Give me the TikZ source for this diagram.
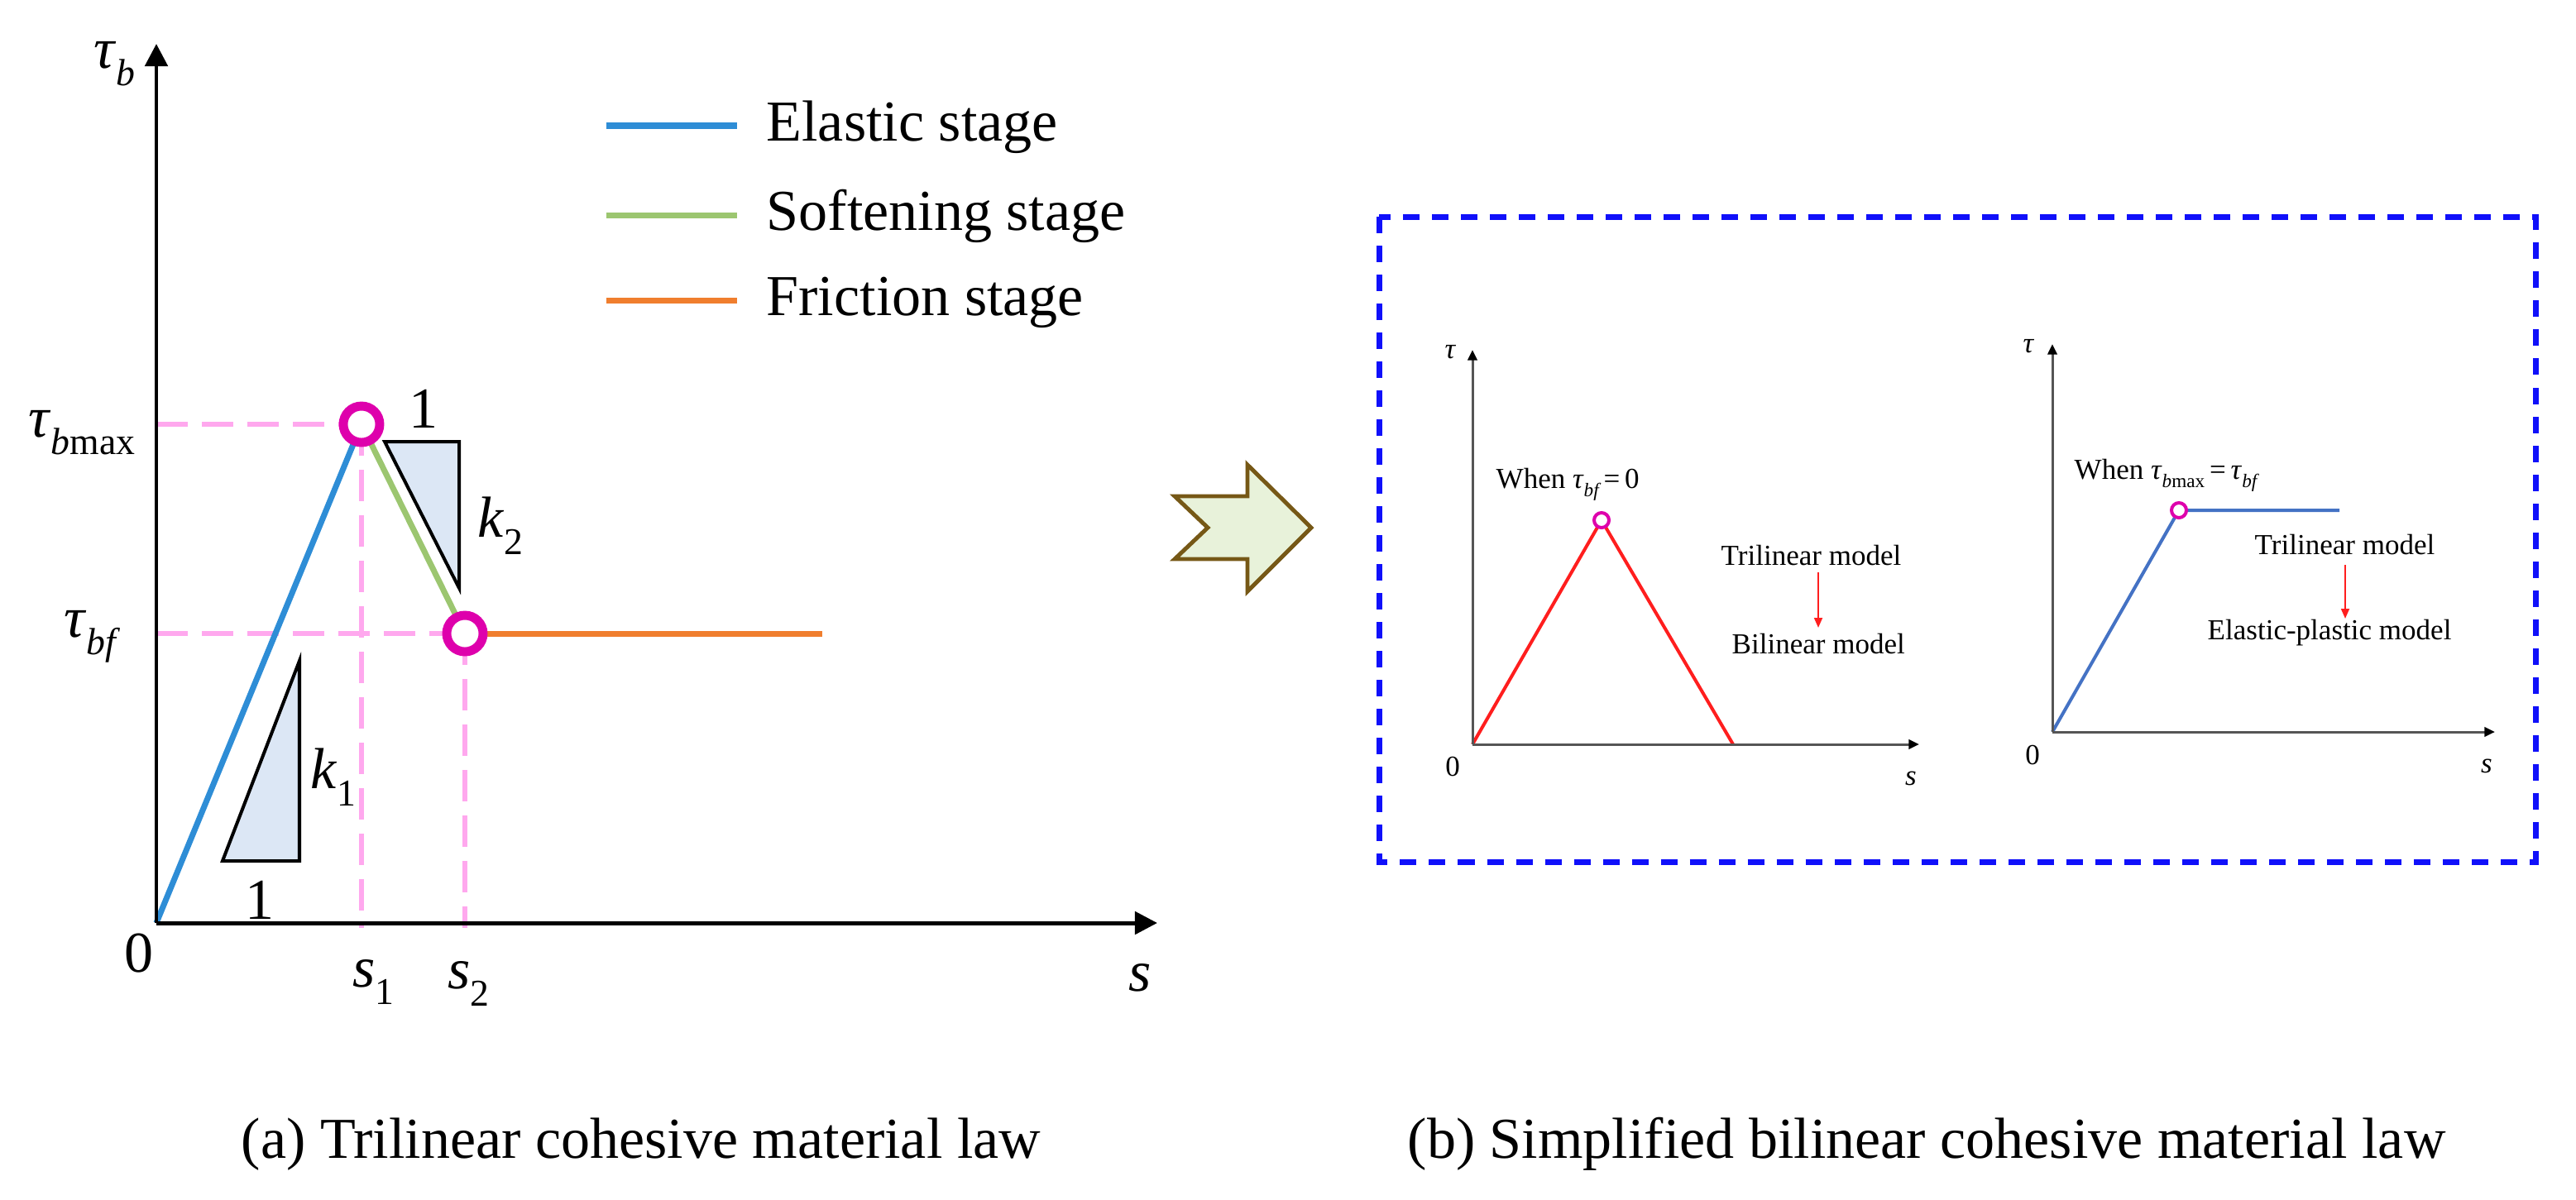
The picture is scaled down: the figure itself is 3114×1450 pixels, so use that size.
\documentclass[tikz,border=0pt]{standalone}
\usepackage{fontspec}
\setmainfont{Liberation Serif}
\usetikzlibrary{arrows.meta}
\definecolor{elastic}{RGB}{46,141,214}
\definecolor{soft}{RGB}{156,198,112}
\definecolor{fric}{RGB}{240,126,46}
\definecolor{mag}{RGB}{222,0,172}
\definecolor{pinkd}{RGB}{255,168,238}
\definecolor{trifill}{RGB}{220,231,245}
\definecolor{boxblue}{RGB}{16,16,250}
\definecolor{arrfill}{RGB}{232,242,218}
\definecolor{arrline}{RGB}{118,88,22}
\definecolor{subblue}{RGB}{68,114,196}
\definecolor{axgray}{RGB}{85,85,85}
\definecolor{redline}{RGB}{255,30,30}
\newcommand{\bigfont}{\fontsize{19.92}{24}\selectfont}
\newcommand{\smallfont}{\fontsize{9.96}{12}\selectfont}
\newcommand{\lsub}[1]{\raisebox{-0.3em}{\fontsize{13}{15}\selectfont\itshape #1}}
\newcommand{\ssub}[1]{\raisebox{-0.3em}{\fontsize{6.6}{8}\selectfont\itshape #1}}
\tikzset{
  axisL/.style={line width=1.42pt,-{Triangle[length=7.7pt,width=7.7pt]}},
  axisS/.style={draw=axgray,line width=0.85pt,-{Triangle[length=3.6pt,width=3.2pt,color=black]}},
  guide/.style={draw=pinkd,line width=1.7pt,dash pattern=on 0.38cm off 0.17cm},
  slopetri/.style={draw=black,fill=trifill,line width=1.14pt,line join=miter},
  ringL/.style={circle,draw=mag,fill=white,line width=3.1pt,minimum size=0.44cm,inner sep=0pt},
  ringS/.style={circle,draw=mag,fill=white,line width=1.14pt,minimum size=0.18cm,inner sep=0pt},
  curveL/.style={line width=2pt},
  curveS/.style={line width=1.14pt},
  lbl/.style={inner sep=0pt,font=\bigfont},
  slbl/.style={inner sep=0pt,font=\smallfont},
  noteArrow/.style={draw=redline,line width=0.6pt,-{Triangle[length=3.4pt,width=2.8pt]}},
  simpbox/.style={draw=boxblue,line width=2pt,dash pattern=on 0.2cm off 0.15cm},
  bigarrow/.style={draw=arrline,fill=arrfill,line width=1.4pt,line join=miter}
}
\begin{document}
\begin{tikzpicture}[x=0.01cm,y=-0.01cm]
\useasboundingbox (0,0) rectangle (3114,1450);
% ---------------- left panel ----------------
\coordinate (O) at (189,1116);
\coordinate (Ytop) at (189,53);
\coordinate (Xend) at (1399,1116);
\coordinate (P1) at (437,513);
\coordinate (P2) at (562,766);
\coordinate (Fend) at (994,766);
\coordinate (Y1) at (189,513);
\coordinate (Y2) at (189,766);
\coordinate (S1) at (437,1122);
\coordinate (S2) at (562,1122);
% guides
\draw[guide] (Y1) -- (P1);
\draw[guide] (Y2) -- (P2);
\draw[guide] (P1) -- (S1);
\draw[guide] (P2) -- (S2);
% slope triangles
\coordinate (T1a) at (269,1041);
\coordinate (T1b) at (362,1041);
\coordinate (T1c) at (362,799);
\draw[slopetri] (T1a) -- (T1b) -- (T1c) -- cycle;
\coordinate (T2a) at (465,534);
\coordinate (T2b) at (555,534);
\coordinate (T2c) at (555,711);
\draw[slopetri] (T2a) -- (T2b) -- (T2c) -- cycle;
% curve
\draw[curveL,elastic] (O) -- (P1);
\draw[curveL,soft] (P1) -- (P2);
\draw[curveL,fric] (P2) -- (Fend);
% axes
\draw[axisL] (O) -- (Ytop);
\draw[axisL] (O) -- (Xend);
% rings
\node[ringL] (R1) at (P1) {};
\node[ringL] (R2) at (P2) {};
% legend
\coordinate (La1) at (733,152); \coordinate (La2) at (891,152);
\coordinate (Lb1) at (733,260); \coordinate (Lb2) at (891,260);
\coordinate (Lc1) at (733,363); \coordinate (Lc2) at (891,363);
\draw[curveL,elastic] (La1) -- (La2);
\draw[curveL,soft] (Lb1) -- (Lb2);
\draw[curveL,fric] (Lc1) -- (Lc2);
\node[lbl,anchor=base west] (tEl) at (926,170) {Elastic stage};
\node[lbl,anchor=base west] (tSo) at (926,278) {Softening stage};
\node[lbl,anchor=base west] (tFr) at (926,381) {Friction stage};
% labels
\node[lbl,anchor=base west] (ltb) at (113,82) {\textit{τ}\lsub{b}};
\node[lbl,anchor=base west] (ltbmax) at (34,528) {\textit{τ}\lsub{b\upshape max}};
\node[lbl,anchor=base west] (ltbf) at (77,770) {\textit{τ}\lsub{bf}};
\node[lbl] (l0) at (168,1153) {0};
\node[lbl,anchor=base west] (ls1) at (426,1193) {\textit{s}\lsub{\upshape 1}};
\node[lbl,anchor=base west] (ls2) at (541,1195) {\textit{s}\lsub{\upshape 2}};
\node[lbl,anchor=base west] (ls) at (1364,1198) {\textit{s}};
\node[lbl,anchor=base west] (lk1) at (375,953) {\textit{k}\lsub{\upshape 1}};
\node[lbl,anchor=base] (lone1) at (314,1111) {1};
\node[lbl,anchor=base west] (lk2) at (577,649) {\textit{k}\lsub{\upshape 2}};
\node[lbl,anchor=base] (lone2) at (512,517) {1};
% caption a
\node[lbl,anchor=base] (capA) at (775,1400) {(a) Trilinear cohesive material law};
% ---------------- transition arrow ----------------
\draw[bigarrow] (1420,600) -- (1508,600) -- (1508,562) -- (1585,638) -- (1508,715) -- (1508,676) -- (1420,676) -- (1460,638) -- cycle;
% ---------------- right panel ----------------
\draw[simpbox] (1667,262) rectangle (3065,1042);
% subplot 1
\coordinate (Oa) at (1780,900);
\coordinate (Ya) at (1780,423);
\coordinate (Xa) at (2320,900);
\coordinate (Qa) at (1936,629);
\coordinate (Ea) at (2095,900);
\draw[curveS,redline] (Oa) -- (Qa) -- (Ea);
\draw[axisS] (Oa) -- (Ya);
\draw[axisS] (Oa) -- (Xa);
\node[ringS] (Ra) at (Qa) {};
\node[slbl,anchor=base west] (ta) at (1746,433) {\textit{τ}};
\node[slbl] (za) at (1756,927) {0};
\node[slbl] (sa) at (2310,941) {\textit{s}};
\node[slbl,anchor=base west] (wa) at (1808,590) {When \textit{τ}\ssub{bf}\,=\,0};
\node[slbl,anchor=base west] (tria) at (2080,683) {Trilinear model};
\node[slbl,anchor=base west] (bila) at (2093,790) {Bilinear model};
\coordinate (Aa1) at (2198,692);
\coordinate (Aa2) at (2198,759);
\draw[noteArrow] (Aa1) -- (Aa2);
% subplot 2
\coordinate (Ob) at (2481,885);
\coordinate (Yb) at (2481,416);
\coordinate (Xb) at (3016,885);
\coordinate (Qb) at (2634,617);
\coordinate (Eb) at (2828,617);
\draw[curveS,subblue] (Ob) -- (Qb) -- (Eb);
\draw[axisS] (Ob) -- (Yb);
\draw[axisS] (Ob) -- (Xb);
\node[ringS] (Rb) at (Qb) {};
\node[slbl,anchor=base west] (tb) at (2445,426) {\textit{τ}};
\node[slbl] (zb) at (2457,913) {0};
\node[slbl] (sb) at (3006,926) {\textit{s}};
\node[slbl,anchor=base west] (wb) at (2507,579) {When \textit{τ}\ssub{b\upshape max}\,=\,\textit{τ}\ssub{bf}};
\node[slbl,anchor=base west] (trib) at (2725,670) {Trilinear model};
\node[slbl,anchor=base west] (elb) at (2668,773) {Elastic-plastic model};
\coordinate (Ab1) at (2835,683);
\coordinate (Ab2) at (2835,748);
\draw[noteArrow] (Ab1) -- (Ab2);
% caption b
\node[lbl,anchor=base] (capB) at (2329,1400) {(b) Simplified bilinear cohesive material law};
\end{tikzpicture}
\end{document}
